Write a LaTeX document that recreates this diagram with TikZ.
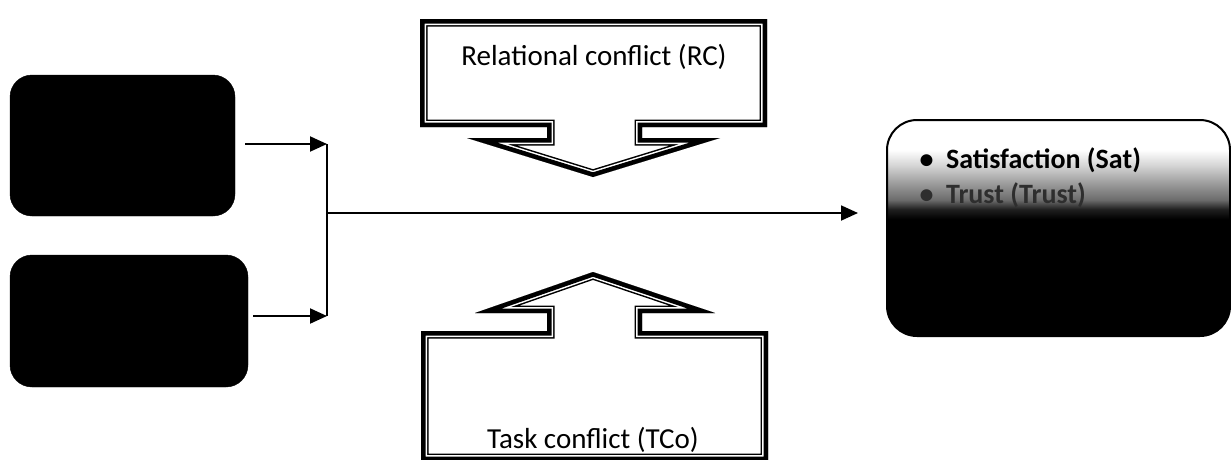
\documentclass[tikz,border=0pt]{standalone}
\usepackage{fontspec}
\setmainfont{Carlito}
\usetikzlibrary{arrows.meta}
\definecolor{sga}{gray}{0.12}
\definecolor{sgb}{gray}{0.42}
\definecolor{sgc}{gray}{0.62}
\definecolor{sgd}{gray}{0.84}
\definecolor{trustgray}{gray}{0.18}
\pgfdeclareverticalshading{outshade}{100bp}{color(0bp)=(black); color(52bp)=(black); color(54.3bp)=(sga); color(56.5bp)=(sgb); color(60.5bp)=(sgc); color(64.6bp)=(sgd); color(68.1bp)=(white); color(100bp)=(white)}
\newcommand{\calloutdown}[1]{\path[#1] (420,19) -- (767,19) -- (767,127) -- (642,127) -- (642,138) -- (720,138) -- (593,177) -- (467,138) -- (547,138) -- (547,127) -- (420,127) -- cycle;}
\newcommand{\calloutup}[1]{\path[#1] (593,272) -- (715,313) -- (642,313) -- (642,331) -- (768,331) -- (768,461) -- (421,461) -- (421,331) -- (547,331) -- (547,313) -- (475,313) -- cycle;}
\begin{document}
\begin{tikzpicture}[x=1pt,y=-1pt,
  conn/.style={line width=2pt,-{Triangle[length=17pt,width=15pt]}},
  darkbox/.style={fill=black,draw=black,rounded corners=22pt,inner sep=0pt},
  outbox/.style={shading=outshade,draw=black,line width=2pt,rounded corners=30pt,inner sep=0pt,minimum width=343pt,minimum height=216pt},
  bigtext/.style={font=\fontsize{29}{35}\selectfont},
  bordthick/.style={line join=miter,miter limit=25}]
\useasboundingbox (0,0) rectangle (1231,459);
% left boxes
\node[darkbox,minimum width=225pt,minimum height=141pt] (b1) at (122.5,145.5) {};
\node[darkbox,minimum width=238pt,minimum height=132pt] (b2) at (129,321) {};
% outcome box
\node[outbox] (out) at (1058.5,228) {};
\node[anchor=base west,font=\fontsize{28}{34}\selectfont\bfseries] (sat) at (916,168) {\textbullet\hspace{0.45em}Satisfaction (Sat)};
\node[anchor=base west,font=\fontsize{28}{34}\selectfont\bfseries,text=trustgray] (trust) at (916,203) {\textbullet\hspace{0.45em}Trust (Trust)};
% connectors
\coordinate (j1) at (327,144);
\coordinate (j2) at (327,316);
\coordinate (jm) at (327,213);
\draw[conn] ([xshift=10pt]b1.east |- j1) -- (j1);
\draw[conn] ([xshift=5pt]b2.east |- j2) -- (j2);
\draw[line width=2pt] (j1) -- (j2);
\draw[conn,line width=1.8pt,shorten >=28pt] (jm) -- (out.west |- jm);
% top callout (down arrow)
\calloutdown{fill=white}
\begin{scope}
  \calloutdown{clip}
  \calloutdown{draw=black,line width=15pt,bordthick}
  \calloutdown{draw=white,line width=12pt,bordthick}
  \calloutdown{draw=black,line width=9pt,bordthick}
\end{scope}
\node[bigtext,anchor=base] (rc) at (594,65) {Relational conflict (RC)};
% bottom callout (up arrow)
\calloutup{fill=white}
\begin{scope}
  \calloutup{clip}
  \calloutup{draw=black,line width=15pt,bordthick}
  \calloutup{draw=white,line width=12pt,bordthick}
  \calloutup{draw=black,line width=9pt,bordthick}
\end{scope}
\node[bigtext,anchor=base] (tco) at (593,448) {Task conflict (TCo)};
\end{tikzpicture}
\end{document}
